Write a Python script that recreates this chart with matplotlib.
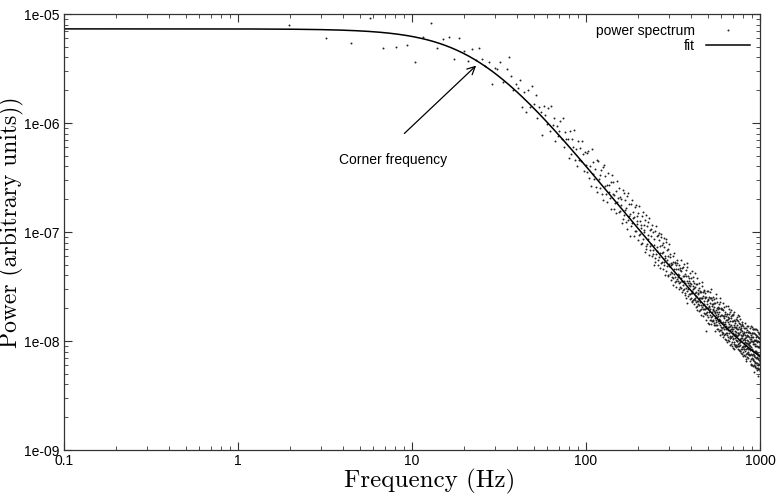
import numpy as np
import matplotlib
matplotlib.use("Agg")
import matplotlib.pyplot as plt
from matplotlib.ticker import FixedLocator, FixedFormatter, LogLocator, NullFormatter

# ---- fit parameters (Lorentzian + floor) ----
fit_amplitude = 7.3e-6
corner_freq = 24.0
noise_floor = 3e-9

# ---- low-frequency spectrum points ----
freq_low = [1.96, 3.2, 4.48, 5.7, 6.8, 8.1, 9.3, 10.4, 11.6, 12.8, 13.9, 15.0, 16.4,
            17.5, 18.7, 19.9, 21.0, 22.2, 23.2, 24.2, 25.3, 26.4, 27.7, 28.8, 30.0,
            30.9, 32.0, 33.3, 35.0, 35.9]
power_low = [7.9e-6, 6.0e-6, 5.4e-6, 9.2e-6, 4.9e-6, 5.0e-6, 5.2e-6, 3.6e-6, 6.1e-6,
             8.3e-6, 4.9e-6, 5.9e-6, 6.1e-6, 3.9e-6, 6.0e-6, 4.6e-6, 3.7e-6, 4.8e-6,
             3.8e-6, 4.9e-6, 3.9e-6, 3.3e-6, 3.6e-6, 2.3e-6, 3.2e-6, 3.1e-6, 3.6e-6,
             2.4e-6, 3.1e-6, 4.0e-6]

# ---- higher-frequency bins: start, spacing, and per-bin deviation from the fit
# coarse digit c and fine digit f -> log10 ratio (c - 5 + f/10) * 0.045 ----
bin_start = 37.1
bin_width = 1.18
dev_coarse = (
    # ~37-100 Hz (mostly above the fit)
    "74658362749583651764839572646849375628475936284759637"
    # ~100-300 Hz
    "5748362957463829564738295746"
    "3856472958364725963847562938"
    "4756382947561839475628394756"
    "2839475628394756182937465829"
    "3746582937465128394756283947"
    "56283947562839"
    "4756283947562839"
    # ~300-1000 Hz
    "456374526354736284537645263748536473526473856347256374853627"
    "537462819463574653728465374625394756382647356492735648372645"
    "645372845637462538495637426538475637462503748563472658374526"
    "384756293847563746583746285637452637485936475263847563748256"
    "473658294736584736258473625946375846253748693745263748562937"
    "564738295647382654738562947365284756392847563748293657482635"
    "463857294638574629384756283947563827465938475627384956372846"
    "736452837465382746593827465382746519384756273849563728465738"
    "583647295836471859364728593647285936472859364028593647285936"
    "472638594726385147263859472638594720385947263859472638594726"
)
dev_fine = (
    "283910475629184736052817394602857193640285719364028571936402"
    "917362840551928374611092837467501528374660159203746615927384"
    "062847193558201746399218475062183947756012839475601823947562"
    "738291046612938475504918273664019283775610293847165029384716"
    "450192837641029384756610293847560129384756012938475601293847"
    "819203746558102937464810293756648102937564810293756481029375"
    "302918475663019284756301928475630192847563019284756301928475"
    "574610293884756102938475610293847561029384756102938475610293"
    "691028374556910283745569102837455691028374556910283745569102"
    "128374650912837465091283746509128374650912837465091283746509"
    "845019273684501927368450192736845019273684501927368450192736"
    "263748190526374819052637481905263748190526374819052637481905"
    "907162538490716253849071625384907162538490716253849071625384"
    "516283947051628394705162839470516283947051628394705162839470"
)


def fit_model(f):
    f = np.asarray(f, dtype=float)
    return fit_amplitude / (1.0 + (f / corner_freq) ** 2) + noise_floor


dev = np.array([(int(c) - 5 + int(g) / 10.0) * 0.045
                for c, g in zip(dev_coarse, dev_fine)])
freq_high = bin_start + bin_width * np.arange(len(dev))
power_high = fit_model(freq_high) * 10 ** dev

freq = np.concatenate([freq_low, freq_high])
power = np.concatenate([power_low, power_high])

x_ticks = [0.1, 1, 10, 100, 1000]
x_labels = ["0.1", "1", "10", "100", "1000"]
y_ticks = [1e-9, 1e-8, 1e-7, 1e-6, 1e-5]
y_labels = ["1e-09", "1e-08", "1e-07", "1e-06", "1e-05"]

W, H = 776, 494
fig = plt.figure(figsize=(W / 100, H / 100), dpi=100)
left, right, top, bottom = 64, 760, 14, 450
ax = fig.add_axes([left / W, (H - bottom) / H, (right - left) / W, (bottom - top) / H])

ax.plot(freq, power, ls="", marker="o", ms=1.4, mew=0, color="#222222",
        label="power spectrum")
f_line = np.logspace(-1, 3, 600)
ax.plot(f_line, fit_model(f_line), color="black", lw=1.1, label="fit")

ax.set_xscale("log")
ax.set_yscale("log")
ax.set_xlim(0.1, 1000)
ax.set_ylim(1e-9, 1e-5)

ax.xaxis.set_major_locator(FixedLocator(x_ticks))
ax.xaxis.set_major_formatter(FixedFormatter(x_labels))
ax.yaxis.set_major_locator(FixedLocator(y_ticks))
ax.yaxis.set_major_formatter(FixedFormatter(y_labels))
ax.xaxis.set_minor_locator(LogLocator(base=10, subs=np.arange(2, 10), numticks=20))
ax.yaxis.set_minor_locator(LogLocator(base=10, subs=np.arange(2, 10), numticks=20))
ax.xaxis.set_minor_formatter(NullFormatter())
ax.yaxis.set_minor_formatter(NullFormatter())

ax.tick_params(which="both", direction="in", top=True, right=True,
               labelsize=10, color="#333333")
ax.tick_params(which="major", length=6, width=0.8, pad=3)
ax.tick_params(which="minor", length=3, width=0.6)
for lab in ax.get_xticklabels() + ax.get_yticklabels():
    lab.set_fontfamily("Liberation Sans")
for s in ax.spines.values():
    s.set_linewidth(0.9)
    s.set_color("#333333")

fig.text(430 / W, 1 - 481 / H, "Frequency (Hz)", fontfamily="cmr10", fontsize=18,
         ha="center", va="center")
fig.text(11 / W, 1 - 222 / H, "Power (arbitrary units))", fontfamily="cmr10",
         fontsize=17, rotation=90, ha="center", va="center")

ax.annotate("", xy=(24, 3.5e-6), xytext=(8.8, 7.7e-7),
            arrowprops=dict(arrowstyle="->", color="black", lw=0.9,
                            mutation_scale=14))
ax.text(3.8, 4.6e-7, "Corner frequency", fontfamily="Liberation Sans", fontsize=10,
        va="center", ha="left")

leg = ax.legend(loc="upper right", frameon=False, markerfirst=False,
                prop={"family": "Liberation Sans", "size": 10},
                handlelength=3.2, handletextpad=0.8, borderaxespad=0.3,
                labelspacing=0.1, markerscale=1.0)

fig.savefig("out.png", dpi=100)
